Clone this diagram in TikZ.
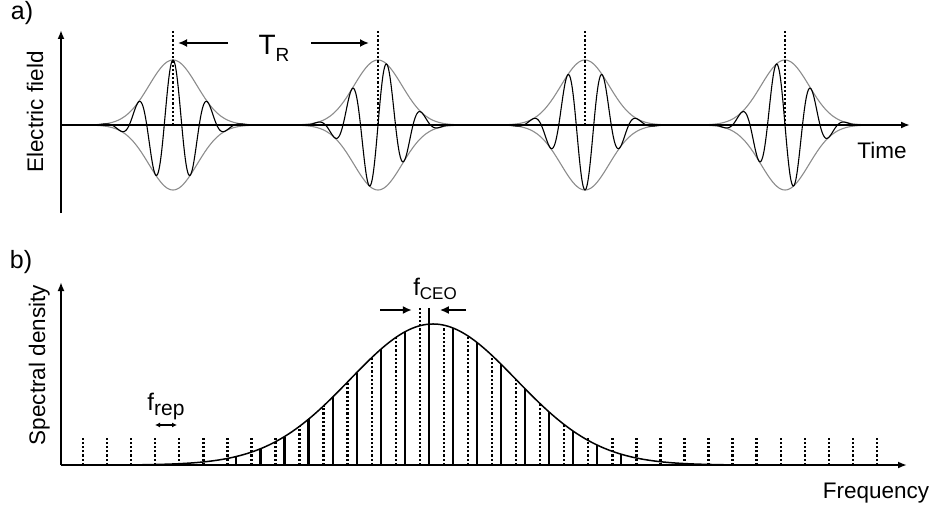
\documentclass[tikz,border=0pt]{standalone}
\usepackage{fontspec}
\setmainfont{Liberation Sans}
\usetikzlibrary{arrows.meta,calc}
\tikzset{
  axisline/.style={-{Latex[length=9pt,width=7pt]}, line width=2pt},
  envline/.style={line width=1.1pt, black!45},
  waveline/.style={line width=1.1pt, black},
  specline/.style={line width=1.5pt, black},
  markline/.style={line width=2.4pt, dash pattern=on 2.2pt off 2pt},
  combline/.style={line width=2.2pt},
  gaparrow/.style={-{Latex[length=9pt,width=8pt]}, line width=1.8pt},
  reparrow/.style={{Latex[length=5pt,width=5pt]}-{Latex[length=5pt,width=5pt]}, line width=1.5pt},
  axislabel/.style={font=\fontsize{22.5}{26}\selectfont, inner sep=0pt, anchor=base},
  panellabel/.style={font=\fontsize{25}{28}\selectfont, inner sep=0pt, anchor=base},
  sublab/.style={inner sep=0pt, anchor=base}
}
\newcommand{\lblsub}[5]{{\fontsize{#3}{#3}\selectfont #1}\raisebox{-#5pt}{\fontsize{#4}{#4}\selectfont #2}}

\begin{document}
\begin{tikzpicture}[x=1pt, y=-1pt, >=Latex]
  \useasboundingbox (0,0) rectangle (936,508);

  % a) pulse train
  \coordinate (ea) at (61,213);
  \coordinate (et) at (61,30);
  \coordinate (eo) at (61,125);
  \coordinate (er) at (910,125);
  \foreach \c [count=\k from 0] in {173,378,585,785} {
    \draw[envline] plot[domain=-80:80, samples=81, smooth] ({\c+(\x)},{125-65*exp(-((\x)^2)/1152)});
    \draw[envline] plot[domain=-80:80, samples=81, smooth] ({\c+(\x)},{125+65*exp(-((\x)^2)/1152)});
    \draw[waveline] plot[domain=-78:78, samples=200, smooth] ({\c+(\x)},{125-65*exp(-((\x)^2)/1152)*cos(10.2857*(\x)-90*\k)});
    \coordinate (peak\k) at (\c,31);
    \draw[markline] (peak\k) -- (peak\k |- eo);
  }
  \draw[axisline] (ea) -- (et);
  \draw[axisline] (eo) -- (er);

  \node[panellabel] (alabel) at (22,20) {a)};
  \node[axislabel, rotate=90] (efield) at (43,112) {Electric field};
  \node[axislabel] (time) at (882,158) {Time};
  \node[sublab] (trep) at (274,55) {\lblsub{T}{R}{28}{19}{7}};
  \coordinate (trl) at (228,43);
  \coordinate (trr) at (311,43);
  \draw[gaparrow, shorten >=5pt] (trl) -- (trl -| peak0);
  \draw[gaparrow, shorten >=9pt] (trr) -- (trr -| peak1);

  % b) frequency comb
  \coordinate (so) at (61,465);
  \coordinate (st) at (61,282);
  \coordinate (sr) at (907,465);
  \draw[specline] plot[domain=-3.5:3.5, samples=120, smooth] ({433+83*\x},{465-141*exp(-0.5*(\x)^2)});
  \foreach \n in {0,...,33} {
    \pgfmathsetmacro{\fx}{83+24.06*\n}
    \pgfmathsetmacro{\barh}{max(141*exp(-0.5*((\fx-433)/83)^2),28)}
    \ifnum\n=14 \def\barh{157}\fi
    \coordinate (d\n) at (\fx,465);
    \draw[markline] (d\n) -- ++(0,-\barh);
  }
  \foreach \n in {6,...,22} {
    \pgfmathsetmacro{\fx}{92+24.06*\n}
    \pgfmathsetmacro{\barh}{141*exp(-0.5*((\fx-433)/83)^2)}
    \ifnum\n=14 \def\barh{157}\fi
    \coordinate (s\n) at (\fx,465);
    \draw[combline] (s\n) -- ++(0,-\barh);
  }
  \draw[axisline] (so) -- (st);
  \draw[axisline] (so) -- (sr);

  \node[panellabel] (blabel) at (21,268) {b)};
  \node[axislabel, rotate=90] (sdens) at (45,365) {Spectral density};
  \node[axislabel] (freq) at (876,498) {Frequency};
  \node[sublab] (fceo) at (435,295) {\lblsub{f}{CEO}{24}{17}{4}};
  \coordinate (ceol) at (380,310);
  \coordinate (ceor) at (466,310);
  \draw[gaparrow, shorten >=8pt] (ceol) -- (ceol -| d14);
  \draw[gaparrow, shorten >=11pt] (ceor) -- (ceor -| s14);
  \node[sublab] (frep) at (166,410) {\lblsub{f}{rep}{24}{21}{5}};
  \coordinate (frl) at (155,425);
  \coordinate (frr) at (177,425);
  \draw[reparrow] (frl) -- (frr);
\end{tikzpicture}
\end{document}
